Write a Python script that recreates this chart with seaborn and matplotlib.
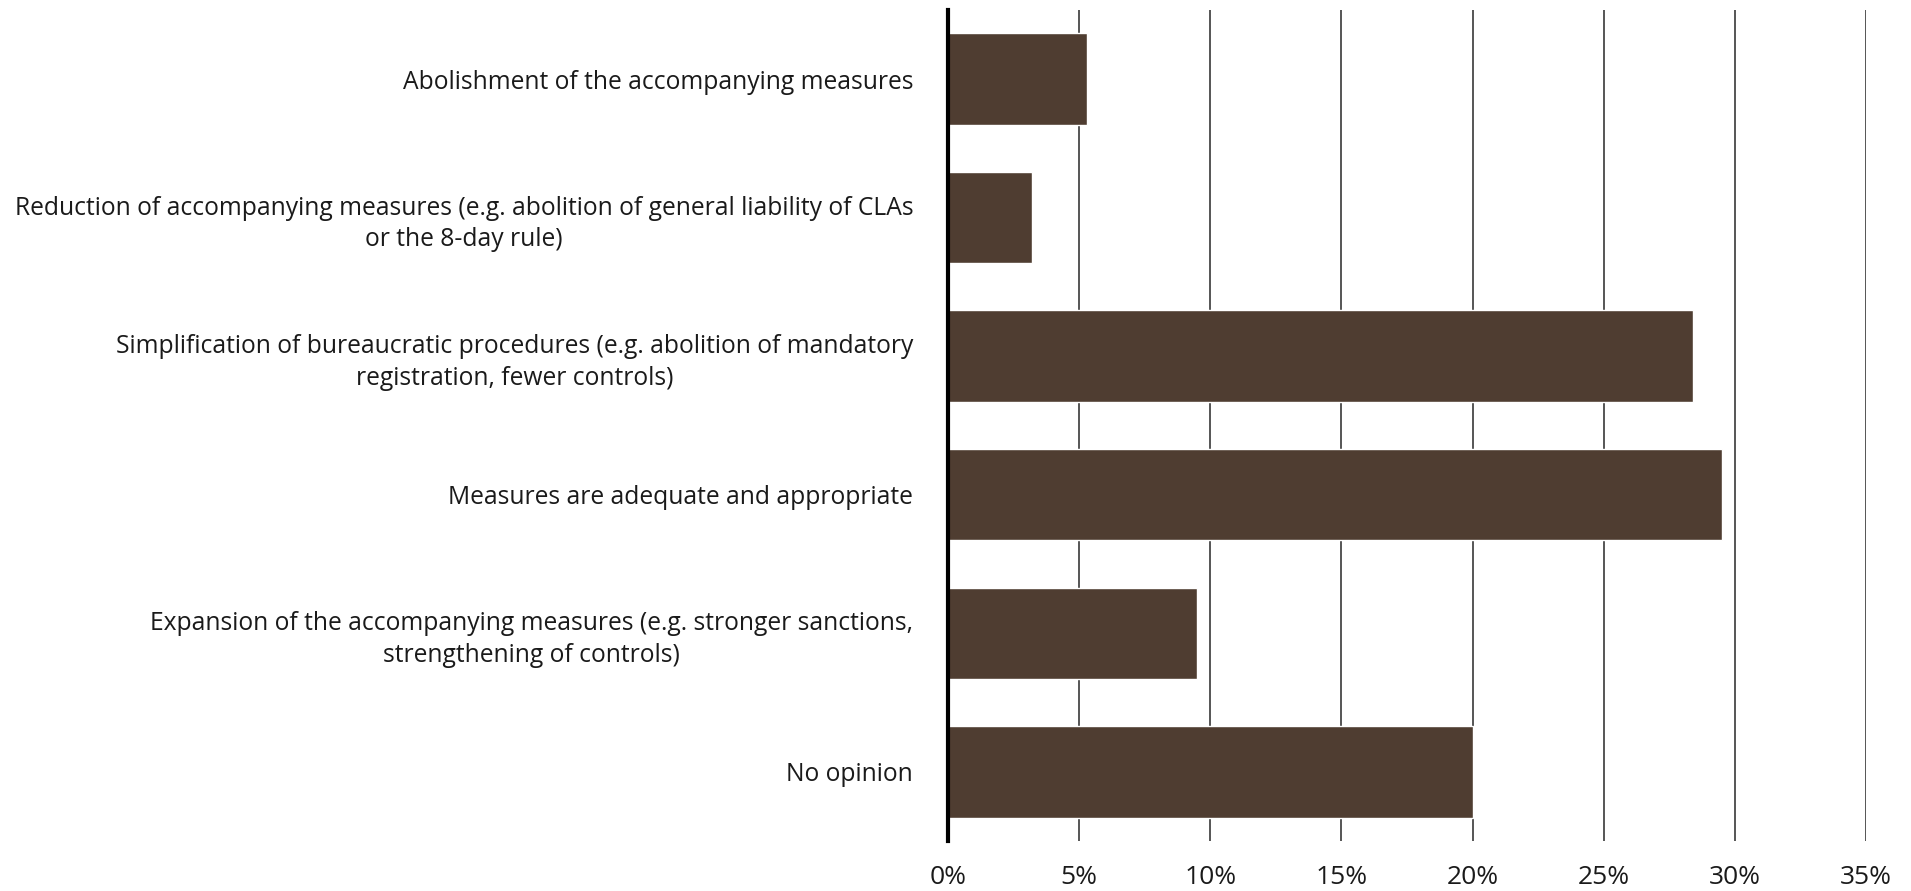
import matplotlib
matplotlib.use("Agg")
import matplotlib.pyplot as plt
import seaborn as sns
import pandas as pd
from matplotlib.ticker import FuncFormatter

# data
categories = [
    "Abolishment of the accompanying measures",
    "Reduction of accompanying measures (e.g. abolition of general liability of CLAs\nor the 8-day rule)",
    "Simplification of bureaucratic procedures (e.g. abolition of mandatory\nregistration, fewer controls)",
    "Measures are adequate and appropriate",
    "Expansion of the accompanying measures (e.g. stronger sanctions,\nstrengthening of controls)",
    "No opinion",
]
shares = [5.3, 3.2, 28.4, 29.5, 9.5, 20.0]
x_ticks = [0, 5, 10, 15, 20, 25, 30, 35]

df = pd.DataFrame({"category": categories, "share": shares})

sns.set_style("white")
plt.rcParams["font.family"] = ["Open Sans", "DejaVu Sans"]

fig = plt.figure(figsize=(19.11, 8.91), dpi=100)
ax = fig.add_axes([0.496, 0.056, 0.4805, 0.933])

sns.barplot(data=df, x="share", y="category", orient="h", color="#4f3d31",
            saturation=1, width=0.66, ax=ax, zorder=3)

ax.set_xlim(0, 35)
ax.set_ylim(5.5, -0.5)
ax.set_xticks(x_ticks)
ax.xaxis.set_major_formatter(FuncFormatter(lambda v, p: f"{v:.0f}%"))
ax.grid(axis="x", color="#555555", linewidth=1.4, zorder=0)
ax.grid(axis="y", visible=False)
ax.set_axisbelow(True)

for s in ["top", "right", "bottom"]:
    ax.spines[s].set_visible(False)
ax.spines["left"].set_color("black")
ax.spines["left"].set_linewidth(3)
ax.spines["left"].set_zorder(5)

ax.tick_params(axis="y", length=0, labelsize=17.7, colors="#1a1a1a", pad=25)
ax.tick_params(axis="x", length=0, labelsize=19, colors="#1a1a1a", pad=17)
for lbl in ax.get_yticklabels():
    lbl.set_multialignment("center")
    lbl.set_linespacing(1.35)
ax.set_xlabel("")
ax.set_ylabel("")

fig.savefig("out.png", dpi=100, facecolor="white")
